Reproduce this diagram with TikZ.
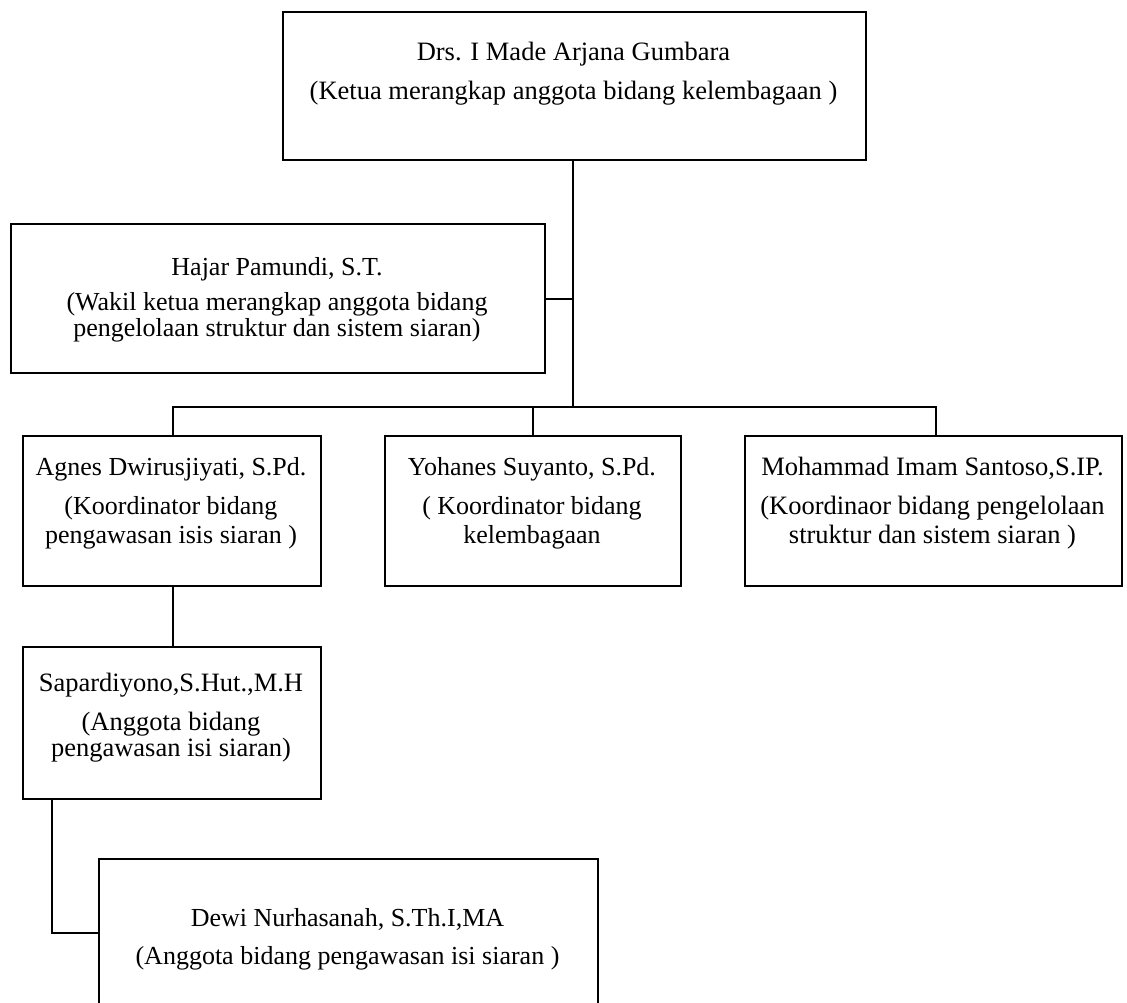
\documentclass[tikz,border=0pt]{standalone}
\usepackage{fontspec}
\setmainfont{Liberation Serif}
\begin{document}
\begin{tikzpicture}[x=1pt,y=-1pt,
  box/.style={draw,line width=2pt,rectangle,inner sep=0pt,anchor=north west},
  lbl/.style={align=center,inner sep=0pt,text=black},
  wire/.style={line width=2pt},
  trunk/.style={line width=2.6pt}]
\useasboundingbox (0,0) rectangle (1127,1003);
\clip (0,0) rectangle (1127,1003);

% boxes
\node[box,line width=2.4pt,minimum width=583pt,minimum height=148pt] (top) at (282,11) {};
\node[box,minimum width=534pt,minimum height=149pt] (hajar) at (10,223) {};
\node[box,minimum width=298pt,minimum height=150pt] (agnes) at (22,435) {};
\node[box,minimum width=296pt,minimum height=150pt] (yoh) at (384,435) {};
\node[box,minimum width=377pt,minimum height=150pt] (moh) at (744,435) {};
\node[box,minimum width=298pt,minimum height=152pt] (sapar) at (22,646) {};
\node[box,minimum width=499pt,minimum height=200pt] (dewi) at (98,858) {};

% texts
\node[lbl,font=\fontsize{26.5}{30}\selectfont] (ttop) at (573.5,74)
  {Drs. I Made Arjana Gumbara\\[9pt](Ketua merangkap anggota bidang kelembagaan )};
\node[lbl,font=\fontsize{26}{26}\selectfont] (thajar) at (277,300)
  {Hajar Pamundi, S.T.\\[9pt](Wakil ketua merangkap anggota bidang\\pengelolaan struktur dan sistem siaran)};
\node[lbl,font=\fontsize{26}{29}\selectfont] (tagnes) at (171,503)
  {Agnes Dwirusjiyati, S.Pd.\\[10pt](Koordinator bidang\\pengawasan isis siaran )};
\node[lbl,font=\fontsize{26}{29}\selectfont] (tyoh) at (532,503)
  {Yohanes Suyanto, S.Pd.\\[10pt]( Koordinator bidang\\kelembagaan};
\node[lbl,font=\fontsize{26.5}{29}\selectfont] (tmoh) at (932.5,503)
  {Mohammad Imam Santoso,S.IP.\\[10pt](Koordinaor bidang pengelolaan\\struktur dan sistem siaran )};
\node[lbl,font=\fontsize{26.5}{26}\selectfont] (tsapar) at (171,718)
  {Sapardiyono,S.Hut.,M.H\\[13pt](Anggota bidang\\pengawasan isi siaran)};
\node[lbl,font=\fontsize{26}{30}\selectfont] (tdewi) at (347.5,939)
  {Dewi Nurhasanah, S.Th.I,MA\\[8pt](Anggota bidang pengawasan isi siaran )};

% connectors
\coordinate (bus) at (573,407);
\draw[trunk] (top.south -| bus) -- (bus);
\draw[wire] (hajar.east) -- (hajar.east -| bus);
\draw[wire] (agnes.north -| 173,0) |- (bus) -| (moh.north -| 936,0);
\draw[wire] (yoh.north -| 533,0) -- (533,407);
\draw[wire] (agnes.south -| 173,0) -- (sapar.north -| 173,0);
\coordinate (dl) at (52,933);
\draw[wire] (sapar.south -| dl) -- (dl) -- (dewi.west |- dl);
\end{tikzpicture}
\end{document}
